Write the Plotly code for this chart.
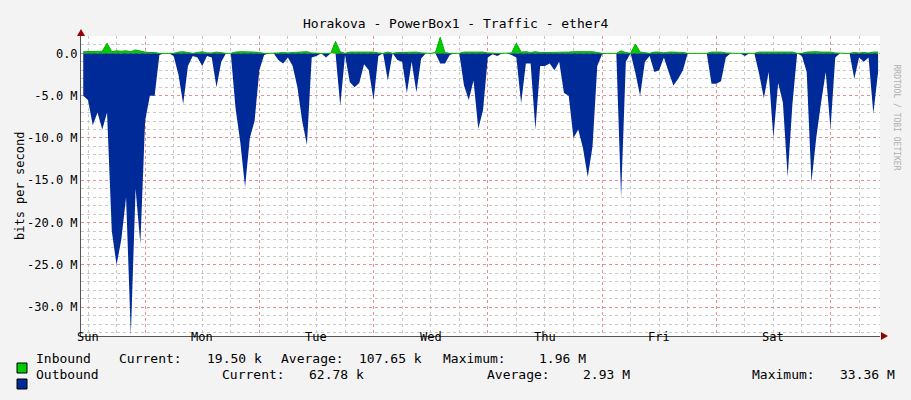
import plotly.graph_objects as go

hours = list(range(11, 179))
outbound_m = [5,5.5,8.5,7,9,7,21,25,22,17,33.3,16,22.5,
 8,5,5,0.2,0,0,0.3,2.5,6,1.5,0.3,0.5,
 1.5,0.3,0.5,4,1,0,0,6.5,10.5,15.8,10,8,
 2,0.2,0,0,0.8,1.2,0.5,1.5,4,8,10.8,0.5,
 0.3,0,0.5,0,0,6.2,0.2,3.4,4,3.5,1.3,2,
 5.5,0.3,0,3.2,0,0.8,1,4.7,1,4.6,0.6,0,
 0,0,1.2,1.2,0.2,0,0,3.8,5.5,3.2,8.9,6.7,
 0.5,0.1,0.3,0,0,0.2,0.5,5.9,1.2,1.2,9,1.5,
 1.5,1.2,2,1,4.7,5,10,9,11.2,14.6,11,1.5,
 0.1,0,0,0,17,1,0,2.3,5,1,0.3,2.2,
 2,0.5,2.2,3.8,3,2,0,0,0,0,0,3.6,
 3.6,3.3,0.5,0,0,0,0.3,0,0,2.4,5.3,2.2,
 10,3.5,5.8,14.6,6,0,0.3,2.2,15.2,10,5.9,2.2,
 8.9,0.5,0,0,0,3,0.5,1,0.5,7.1,2.2]
inbound_m = [.2,.2,.25,.2,.25,1.2,.2,.3,.25,.3,.2,.4,.25,
 .15,.1,.1,0,0,0,0,.15,.2,.1,0,.1,
 .2,.05,.05,.15,.05,0,0,.15,.2,.2,.2,.15,
 .1,0,0,0,.05,.1,.05,.1,.15,.15,.2,.05,
 0,0,0,0,1.4,.2,0,.15,.15,.15,.15,.15,
 .15,.05,0,.15,0,.1,.1,.15,.1,.15,.05,0,
 0,.1,1.9,.1,0,0,0,.15,.15,.15,.2,.15,
 .05,0,0,0,0,.05,1.2,.15,.2,.1,.2,.1,
 .1,.1,.15,.1,.15,.15,.2,.2,.2,.2,.2,.1,
 0,0,0,0,.3,.1,0,1.1,.15,.1,0,.15,
 .15,.05,.15,.15,.15,.1,0,0,0,0,0,.15,
 .15,.15,.05,0,0,0,0,0,0,.15,.15,.15,
 .2,.15,.15,.15,.15,0,0,.15,.2,.2,.15,.15,
 .15,.05,0,0,0,.1,.05,.1,.05,.15,.15]
day_labels = ["Sun", "Mon", "Tue", "Wed", "Thu", "Fri", "Sat"]
y_ticks = [0, -5, -10, -15, -20, -25, -30]
y_ticktext = ["0.0", "-5.0 M", "-10.0 M", "-15.0 M", "-20.0 M", "-25.0 M", "-30.0 M"]
legend_rows = [
    ("#00cc00", [("Inbound", 34), ("Current:", 117), ("19.50 k", 205), ("Average:", 279),
                 ("107.65 k", 357), ("Maximum:", 441), ("1.96 M", 537)]),
    ("#002a97", [("Outbound", 34), ("Current:", 220), ("62.78 k", 307), ("Average:", 485),
                 ("2.93 M", 581), ("Maximum:", 750), ("33.36 M", 838)]),
]

L, R, T, B = 81, 880, 36, 336
def px(x): return (x - L) / (R - L)
def py(y): return (B - y) / (B - T)

MONO = "DejaVu Sans Mono"
fig = go.Figure()
fig.add_trace(go.Scatter(x=hours, y=[-v for v in outbound_m], fill="tozeroy",
                         fillcolor="#002a97", line=dict(width=0, color="#002a97"),
                         mode="lines", hoverinfo="skip"))
fig.add_trace(go.Scatter(x=hours, y=inbound_m, fill="tozeroy",
                         fillcolor="#00cc00", line=dict(width=1, color="#00b000"),
                         mode="lines", hoverinfo="skip"))

ann = []
ann.append(dict(text="Horakova - PowerBox1 - Traffic - ether4", x=px(455), y=py(14), xref="paper",
                yref="paper", showarrow=False, font=dict(family=MONO, size=13, color="#000")))
for i, d in enumerate(day_labels):
    ann.append(dict(text=d, x=12 + 24 * i, xref="x", y=py(346), yref="paper", showarrow=False,
                    font=dict(family=MONO, size=12, color="#000")))
ann.append(dict(text="bits per second", x=px(11), y=py(186), xref="paper", yref="paper",
                textangle=-90, showarrow=False, font=dict(family=MONO, size=12, color="#000")))
ann.append(dict(text="RRDTOOL / TOBI OETIKER", x=px(903), y=py(62), xref="paper", yref="paper",
                textangle=90, showarrow=False, font=dict(family=MONO, size=8, color="#b0b0b0")))
shapes = []
for ri, (col, items) in enumerate(legend_rows):
    yc = 368 + 16 * ri
    shapes.append(dict(type="rect", xref="paper", yref="paper", x0=px(17), x1=px(27),
                       y0=py(yc - 5), y1=py(yc + 5), fillcolor=col, line=dict(color="#000", width=1)))
    for txt, x in items:
        ann.append(dict(text=txt, x=px(x), y=py(yc), xref="paper", yref="paper", xanchor="left",
                        showarrow=False, font=dict(family=MONO, size=13, color="#000")))
shapes.append(dict(type="path", xref="paper", yref="paper",
                   path=f"M {px(881)} {py(332)} L {px(888)} {py(336)} L {px(881)} {py(340)} Z",
                   fillcolor="#990000", line=dict(width=0)))
shapes.append(dict(type="path", xref="paper", yref="paper",
                   path=f"M {px(77)} {py(36)} L {px(81)} {py(29)} L {px(85)} {py(36)} Z",
                   fillcolor="#990000", line=dict(width=0)))

fig.update_layout(
    width=911, height=400, margin=dict(l=L, r=911 - R, t=T, b=400 - B),
    paper_bgcolor="#f3f3f3", plot_bgcolor="#ffffff", showlegend=False,
    annotations=ann, shapes=shapes,
    xaxis=dict(range=[10.53, 178.4], tickvals=[24, 48, 72, 96, 120, 144, 168], showticklabels=False,
               ticks="", showgrid=True, gridcolor="rgba(240,120,120,0.7)", griddash="dot", gridwidth=1,
               minor=dict(dtick=6, tick0=0, showgrid=True, gridcolor="#c8c8c8", griddash="dot", ticks=""),
               showline=True, linecolor="#555", linewidth=1, zeroline=False, fixedrange=True),
    yaxis=dict(range=[-33.4, 2.05], tickvals=y_ticks, ticktext=y_ticktext, ticks="",
               tickfont=dict(family=MONO, size=12, color="#000"),
               showgrid=True, gridcolor="rgba(240,120,120,0.7)", griddash="dot",
               minor=dict(dtick=1, tick0=0, showgrid=True, gridcolor="#c8c8c8", griddash="dot", ticks=""),
               showline=True, linecolor="#555", linewidth=1, zeroline=False, fixedrange=True),
)
fig.write_html("out.html", config={"displayModeBar": False})
with open("out.html", encoding="utf-8") as f:
    html = f.read()
html = html.replace("<head>", "<head><style>html,body{margin:0;padding:0;overflow:hidden;background:#f3f3f3}</style>", 1)
with open("out.html", "w", encoding="utf-8") as f:
    f.write(html)
